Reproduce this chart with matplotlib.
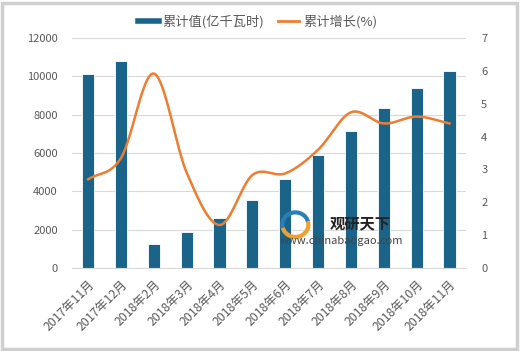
import matplotlib
matplotlib.use("Agg")
import matplotlib.pyplot as plt
import numpy as np
from matplotlib.patches import Rectangle, Arc
from matplotlib.lines import Line2D

plt.rcParams['font.family'] = ['Noto Sans CJK SC', 'DejaVu Sans']

months = ['2017年11月', '2017年12月', '2018年2月', '2018年3月', '2018年4月', '2018年5月',
          '2018年6月', '2018年7月', '2018年8月', '2018年9月', '2018年10月', '2018年11月']
total = [10100, 10800, 1250, 1900, 2600, 3550, 4620, 5900, 7150, 8330, 9390, 10280]
growth = [2.7, 3.35, 5.92, 2.9, 1.31, 2.83, 2.88, 3.6, 4.74, 4.4, 4.61, 4.4]

bar_color = '#1B6489'
line_color = '#ED7D31'
text_color = '#595959'


def smooth(xs, ys, n=30):
    # catmull-rom style curve, like the excel smoothed line
    xs = np.asarray(xs, float)
    ys = np.asarray(ys, float)
    px = np.concatenate([[2 * xs[0] - xs[1]], xs, [2 * xs[-1] - xs[-2]]])
    py = np.concatenate([[2 * ys[0] - ys[1]], ys, [2 * ys[-1] - ys[-2]]])
    out_x, out_y = [], []
    t = np.linspace(0, 1, n)
    for i in range(1, len(px) - 2):
        for arr, out in ((px, out_x), (py, out_y)):
            p0, p1, p2, p3 = arr[i - 1], arr[i], arr[i + 1], arr[i + 2]
            out.extend(0.5 * ((2 * p1) + (-p0 + p2) * t +
                              (2 * p0 - 5 * p1 + 4 * p2 - p3) * t ** 2 +
                              (-p0 + 3 * p1 - 3 * p2 + p3) * t ** 3))
    return np.array(out_x), np.array(out_y)


fig = plt.figure(figsize=(5.2, 3.51), dpi=100)
fig.patches.append(Rectangle((0.004, 0.006), 0.99, 0.985, transform=fig.transFigure,
                             fill=False, edgecolor='#CFCFCF', linewidth=2.5))

ax = fig.add_axes([0.138, 0.2365, 0.758, 0.655])
ind = np.arange(len(months))
ax.bar(ind, total, 0.37, color=bar_color, edgecolor='white', linewidth=0.6, zorder=2)
ax.set_ylim(0, 12000)
ax.set_yticks(range(0, 12001, 2000))
ax.set_xlim(-0.5, len(months) - 0.5)
ax.grid(axis='y', color='#D9D9D9', linewidth=0.8, zorder=0)
ax.set_axisbelow(True)
for s in ['top', 'right', 'left']:
    ax.spines[s].set_visible(False)
ax.spines['bottom'].set_color('#D9D9D9')
ax.tick_params(axis='both', length=0, colors=text_color, labelsize=8)
ax.set_xticks(ind)
ax.set_xticklabels(months, rotation=45, ha='right', rotation_mode='anchor', fontsize=8.8)
ax.tick_params(axis='x', pad=7)
ax.tick_params(axis='y', pad=10)

ax2 = ax.twinx()
sx, sy = smooth(ind, growth)
ax2.plot(sx, sy, color=line_color, linewidth=1.8, zorder=3)
ax2.set_ylim(0, 7)
ax2.set_yticks(range(0, 8))
for s in ax2.spines.values():
    s.set_visible(False)
ax2.tick_params(axis='y', length=0, colors=text_color, labelsize=8, pad=11)

# watermark
fig.patches.append(Arc((0.568, 0.36), 0.05, 0.07, theta1=20, theta2=200, transform=fig.transFigure,
                       color='#2A7FB8', linewidth=3))
fig.patches.append(Arc((0.568, 0.36), 0.05, 0.07, theta1=200, theta2=380, transform=fig.transFigure,
                       color='#F0A030', linewidth=3))
fig.text(0.692, 0.363, '观研天下', fontsize=11, fontweight='bold', color='#222222',
         ha='center', va='center')
fig.text(0.656, 0.313, 'www.chinabaogao.com', fontsize=8, color='#444444', ha='center', va='center')

handles = [Line2D([0], [0], color=bar_color, linewidth=4),
           Line2D([0], [0], color=line_color, linewidth=2)]
fig.legend(handles, ['累计值(亿千瓦时)', '累计增长(%)'], loc='center', bbox_to_anchor=(0.495, 0.937),
           ncol=2, frameon=False, fontsize=9.5, labelcolor=text_color, handlelength=1.6,
           handletextpad=0.3, columnspacing=1.0)

fig.savefig('out.png', dpi=100)
